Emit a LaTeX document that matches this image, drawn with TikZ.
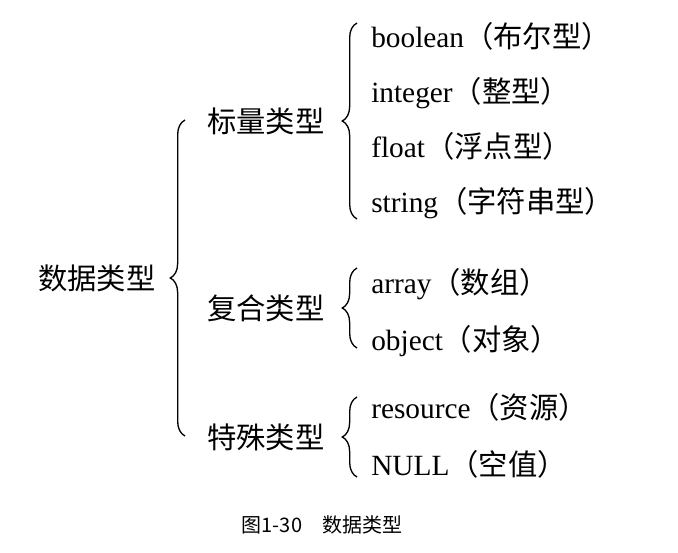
\documentclass[tikz,border=0pt]{standalone}
\usepackage{fontspec}
\setmainfont{Liberation Serif}
\newfontfamily\cjk{Noto Sans CJK SC}
\usetikzlibrary{decorations.pathreplacing}
\tikzset{
  lbl/.style={anchor=west,inner sep=0,text height=19.4pt,text depth=2.6pt,
    font=\fontsize{22}{26}\selectfont},
  brc/.style={decorate,decoration={brace,amplitude=11pt},line width=1pt}
}

\begin{document}
\begin{tikzpicture}[x=0.75pt,y=-0.75pt]
  \useasboundingbox (0,0) rectangle (678,553);

  \node[lbl] (root) at (38,278) {\cjk 数据类型};
  \node[lbl] (scalar) at (207,121) {\cjk 标量类型};
  \node[lbl] (comp) at (207,308) {\cjk 复合类型};
  \node[lbl] (spec) at (207,437) {\cjk 特殊类型};

  \foreach \n/\y/\en/\zh in {s1/36/boolean/布尔型, s2/91/integer/整型,
      s3/146/float/浮点型, s4/201/string/字符串型, c1/282/array/数组,
      c2/339/object/对象, p1/407/resource/资源, p2/464/NULL/空值} {
    \node[lbl] (\n) at (371,\y) {\en{\cjk （\zh）}};
  }

  \draw[brc] ([shift={(147,158)}]root.west) -- ([shift={(147,-158)}]root.west);
  \foreach \nd/\h in {scalar/98, comp/40, spec/40} {
    \draw[brc] ([shift={(150,\h)}]\nd.west) -- ([shift={(150,-\h)}]\nd.west);
  }

  \node[font=\fontsize{15}{17}\selectfont\cjk] (cap) at (322,525) {图1-30　数据类型};
\end{tikzpicture}
\end{document}
